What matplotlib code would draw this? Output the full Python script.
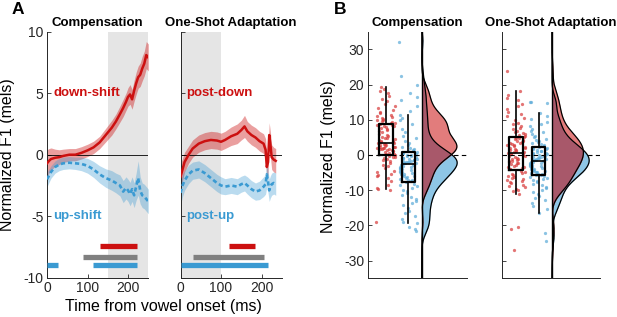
import numpy as np
import matplotlib
matplotlib.use('Agg')
import matplotlib.pyplot as plt

plt.rcParams['font.family'] = ['Liberation Sans', 'DejaVu Sans']
plt.rcParams['axes.unicode_minus'] = False

# ---------------- Panel A data ----------------
t_comp = [0, 5, 10, 20, 30, 40, 55, 70, 85, 100, 115, 130, 145, 160, 170, 180, 188, 195, 200, 205,
          210, 215, 220, 225, 230, 235, 240, 245, 250]
down_mean = [-0.7, -0.5, -0.35, -0.25, -0.2, -0.1, 0.0, 0.0, 0.15, 0.35, 0.6, 1.0, 1.6, 2.2, 2.7, 3.3, 3.8, 4.3, 4.7, 4.9,
             4.5, 5.2, 5.8, 6.3, 6.5, 7.0, 7.4, 8.1, 7.9]
down_sem = [1.1, 1.0, 0.9, 0.7, 0.6, 0.55, 0.5, 0.5, 0.5, 0.5, 0.5, 0.5, 0.55, 0.6, 0.6, 0.65, 0.7, 0.7, 0.75, 0.8,
            0.8, 0.85, 0.9, 0.9, 0.95, 1.0, 1.0, 1.1, 1.1]
up_mean = [-2.0, -1.7, -1.4, -1.0, -0.8, -0.7, -0.65, -0.7, -0.75, -0.9, -1.2, -1.6, -1.9, -2.1, -2.3, -2.5, -3.0, -2.7, -2.9, -3.2,
           -2.8, -3.3, -2.6, -1.9, -2.9, -3.3, -3.4, -3.6, -3.8]
up_sem = [0.6, 0.55, 0.5, 0.5, 0.5, 0.5, 0.5, 0.5, 0.55, 0.6, 0.65, 0.7, 0.75, 0.8, 0.8, 0.85, 0.9, 0.9, 0.9, 0.95,
          1.0, 1.0, 1.1, 1.4, 1.1, 1.0, 1.0, 1.0, 1.0]

t_adapt = [0, 5, 10, 20, 30, 45, 60, 75, 90, 100, 110, 125, 140, 150, 158, 165, 175, 185, 195, 205,
           210, 213, 216, 219, 222, 225, 230, 235]
postdown_mean = [-1.8, -1.2, -0.6, 0.0, 0.5, 0.9, 1.1, 1.2, 1.15, 1.05, 1.2, 1.5, 1.7, 2.0, 2.3, 1.9, 1.6, 1.4, 1.1, 0.9,
                 0.4, -1.0, -0.6, 1.6, 0.8, -0.2, -0.4, -0.5]
postdown_sem = [1.0, 0.9, 0.8, 0.7, 0.7, 0.7, 0.7, 0.7, 0.7, 0.7, 0.7, 0.75, 0.8, 0.8, 0.9, 0.8, 0.8, 0.8, 0.8, 0.8,
                0.9, 1.0, 1.0, 1.0, 1.0, 1.0, 1.0, 1.0]
postup_mean = [-3.1, -2.5, -2.1, -1.6, -1.3, -1.2, -1.5, -1.9, -2.3, -2.5, -2.6, -2.5, -2.6, -2.4, -2.3, -2.5, -2.8, -3.0, -2.9, -2.6,
               -2.4, -1.6, -2.2, -2.9, -2.6, -2.4, -2.3, -2.4]
postup_sem = [1.0, 0.9, 0.8, 0.75, 0.7, 0.7, 0.7, 0.7, 0.7, 0.7, 0.65, 0.65, 0.65, 0.65, 0.65, 0.7, 0.7, 0.7, 0.75, 0.8,
              0.8, 1.0, 0.9, 0.9, 0.9, 0.9, 0.9, 0.9]

# significance windows (ms): down, both, up
comp_sig_start = [131, 90, 114, 0]
comp_sig_end = [221, 221, 221, 26]
adapt_sig_start = [120, 32, 0]
adapt_sig_end = [183, 207, 217]
comp_shade = [150, 250]
adapt_shade = [0, 100]

# ---------------- Panel B data ----------------
comp_down = [-19.0, -9.9, -9.6, -9.3, -8.6, -7.5, -6.4, -5.9, -5.6, -5.3, -4.9, -4.4, -3.8, -3.2, -2.7, -2.2, -1.8, -1.5, -1.2, -0.9, -0.7, -0.5, -0.3, -0.1,
             0.2, 0.4, 0.6, 0.8, 1.0, 1.2, 1.3, 1.5, 1.6, 1.7, 1.8, 1.9, 2.0, 2.1, 2.2, 2.3, 2.4, 2.6, 2.7, 2.9, 3.0, 3.2, 3.3, 3.4,
             3.6, 3.8, 3.9, 4.1, 4.3, 4.5, 4.7, 4.9, 5.2, 5.5, 5.8, 6.1, 6.4, 6.7, 7.0, 7.3, 7.6, 7.9, 8.1, 8.3, 8.5, 8.6, 8.7, 8.8,
             9.0, 9.2, 9.4, 9.6, 9.8, 10.0, 10.2, 10.5, 10.8, 11.1, 11.4, 11.8, 12.2, 12.7, 13.2, 13.8, 14.5, 15.2, 16.0, 16.8, 17.5, 18.2, 18.8, 19.2]
comp_up = [32.1, 22.5, 19.8, 17.5, 16.5, 15.5, 13.9, 12.6, 11.3, 10.5, 9.8, 8.7, 7.5, 6.4, 5.5, 4.8, 4.0, 3.4, 2.9, 2.4, 1.9, 1.6, 1.3, 1.0,
           0.8, 0.6, 0.5, 0.3, 0.1, -0.1, -0.3, -0.4, -0.6, -0.8, -0.9, -1.1, -1.2, -1.4, -1.5, -1.7, -1.8, -1.9, -2.0, -2.1, -2.2, -2.3, -2.4, -2.5,
           -2.7, -2.9, -3.1, -3.3, -3.5, -3.7, -3.9, -4.1, -4.3, -4.5, -4.7, -4.9, -5.1, -5.3, -5.5, -5.7, -5.9, -6.1, -6.3, -6.6, -6.8, -7.0, -7.2, -7.5,
           -7.8, -8.1, -8.5, -8.9, -9.3, -9.8, -10.3, -10.8, -11.3, -11.8, -12.4, -13.0, -13.6, -14.3, -15.0, -15.8, -16.6, -17.4, -18.2, -19.0, -19.4, -20.5, -21.0, -21.5]
adapt_down = [23.8, 18.2, 17.0, 16.2, 15.5, 14.6, 13.8, 13.0, 12.3, 11.6, 11.0, 10.4, 9.8, 9.2, 8.7, 8.2, 7.7, 7.3, 6.9, 6.5, 6.2, 5.9, 5.6, 5.3,
              5.1, 4.9, 4.7, 4.5, 4.3, 4.1, 3.9, 3.7, 3.5, 3.3, 3.1, 2.9, 2.7, 2.5, 2.3, 2.1, 1.9, 1.7, 1.5, 1.3, 1.1, 0.9, 0.8, 0.7,
              0.6, 0.4, 0.2, 0.0, -0.2, -0.4, -0.6, -0.8, -1.0, -1.2, -1.4, -1.6, -1.8, -2.0, -2.2, -2.4, -2.6, -2.8, -3.0, -3.3, -3.5, -3.7, -3.9, -4.1,
              -4.4, -4.7, -5.0, -5.3, -5.6, -5.9, -6.2, -6.5, -6.8, -7.1, -7.4, -7.7, -8.0, -8.4, -8.8, -9.2, -9.6, -9.9, -10.3, -11.0, -20.3, -21.0, -26.9]
adapt_up = [15.1, 15.0, 14.8, 11.8, 11.0, 10.2, 9.5, 8.8, 8.1, 7.5, 6.9, 6.4, 5.9, 5.4, 5.0, 4.6, 4.2, 3.9, 3.6, 3.3, 3.0, 2.8, 2.5, 2.3,
            2.1, 1.9, 1.8, 1.6, 1.4, 1.2, 1.0, 0.9, 0.7, 0.5, 0.3, 0.2, 0.0, -0.2, -0.3, -0.5, -0.6, -0.8, -0.9, -1.1, -1.2, -1.3, -1.4, -1.5,
            -1.7, -1.9, -2.0, -2.2, -2.4, -2.5, -2.7, -2.9, -3.0, -3.2, -3.4, -3.5, -3.7, -3.9, -4.0, -4.2, -4.4, -4.6, -4.8, -4.9, -5.1, -5.3, -5.5, -5.6,
            -5.8, -6.0, -6.3, -6.6, -6.9, -7.2, -7.5, -7.8, -8.2, -8.6, -9.0, -9.5, -10.0, -10.5, -11.0, -11.6, -12.2, -12.9, -13.6, -14.4, -15.2, -16.5, -22.0, -24.3]

# box stats: [whislo, q1, med, q3, whishi]
comp_down_box = [-9.7, 0.0, 3.5, 8.8, 19.2]
comp_up_box = [-19.4, -7.6, -2.6, 0.9, 11.3]
adapt_down_box = [-11.0, -4.25, 0.65, 5.2, 18.2]
adapt_up_box = [-16.5, -5.7, -1.6, 2.2, 11.8]

# ---------------- styling ----------------
RED = '#CC1010'
BLUE = '#3A9AD2'
GRAY = '#808080'
SPINE = '#262626'

W, H = 617, 317
fig = plt.figure(figsize=(6.17, 3.17), dpi=100)


def px_axes(l, t, r, b):
    return fig.add_axes([l / W, 1 - b / H, (r - l) / W, (b - t) / H])


def style(ax):
    for s in ['top', 'right']:
        ax.spines[s].set_visible(False)
    for s in ['left', 'bottom']:
        ax.spines[s].set_color(SPINE)
        ax.spines[s].set_linewidth(0.7)
    ax.tick_params(direction='in', length=3, width=0.6, labelsize=10, pad=2.5, colors=SPINE)


def panelA(ax, t, m1, s1, m2, s2, shade, sig_s, sig_e, title, lab1, lab2, show_ylab):
    t = np.asarray(t); m1 = np.asarray(m1); s1 = np.asarray(s1)
    m2 = np.asarray(m2); s2 = np.asarray(s2)
    ax.axvspan(shade[0], shade[1], color='#E5E5E5', lw=0, zorder=0)
    ax.fill_between(t, m1 - s1, m1 + s1, color=RED, alpha=0.4, lw=0, zorder=1)
    ax.fill_between(t, m2 - s2, m2 + s2, color=BLUE, alpha=0.35, lw=0, zorder=1)
    ax.axhline(0, color='k', lw=0.6, zorder=2)
    ax.plot(t, m1, color=RED, lw=1.8, zorder=3)
    ax.plot(t, m2, color=BLUE, lw=1.9, ls=(0, (1.6, 1.1)), zorder=3)
    ylev = [-7.45, -8.3, -9.0, -9.0]
    cols = [RED, GRAY, BLUE, BLUE]
    for i in range(len(sig_s)):
        ax.hlines(ylev[i], sig_s[i], sig_e[i], color=cols[i], lw=3.8, capstyle='butt', zorder=3)
    ax.set_xlim(0, 250)
    ax.set_ylim(-10, 10)
    ax.set_xticks([0, 100, 200])
    ax.set_yticks([-10, -5, 0, 5, 10])
    style(ax)
    if not show_ylab:
        ax.set_yticklabels([])
    ax.set_title(title, fontsize=9.5, fontweight='bold', pad=4)
    ax.text(15, 5, lab1, color=RED, fontweight='bold', fontsize=9.5, va='center', zorder=4)
    ax.text(15, -5, lab2, color=BLUE, fontweight='bold', fontsize=9.5, va='center', zorder=4)


def kde(vals, grid):
    v = np.asarray(vals, float)
    n = len(v)
    q75, q25 = np.percentile(v, [75, 25])
    h = 0.9 * min(v.std(ddof=1), (q75 - q25) / 1.34) * n ** -0.2
    z = (grid[:, None] - v[None, :]) / h
    return np.exp(-0.5 * z ** 2).sum(axis=1) / (n * h * np.sqrt(2 * np.pi))


def jitter(n, a, b, half):
    # deterministic quadratic Weyl sequence for horizontal spread of the dots
    return np.array([((a * i * i + b * i) % 1.0 - 0.5) * 2 * half for i in range(n)])


def panelB(ax, dvals, uvals, dbox, ubox, xlim, title, show_ylab, scale):
    base = 2.6
    jd = jitter(len(dvals), 0.3090170, 0.4142136, 0.42)
    ju = jitter(len(uvals), 0.3774388, 0.7320508, 0.40)
    ax.scatter(1 + jd, dvals, s=5.5, color='#D83A3A', alpha=0.7, lw=0, zorder=2)
    ax.scatter(2 + ju, uvals, s=5.5, color='#5AAAD8', alpha=0.7, lw=0, zorder=2)
    stats = []
    for b in (dbox, ubox):
        stats.append(dict(whislo=b[0], q1=b[1], med=b[2], q3=b[3], whishi=b[4], fliers=[]))
    ax.bxp(stats, positions=[1, 2], widths=0.6, showcaps=False, showfliers=False, patch_artist=False,
           boxprops=dict(color='k', lw=1.6), whiskerprops=dict(color='k', lw=1.2),
           medianprops=dict(color='k', lw=1.2), zorder=3, manage_ticks=False)
    ax.axhline(0, color='k', lw=0.8, ls=(0, (4, 3)), zorder=4)
    grid = np.linspace(-35, 35, 700)
    kd = kde(dvals, grid) * scale
    ku = kde(uvals, grid) * scale
    ax.fill_betweenx(grid, base, base + ku, color='#8EC6E6', lw=0, zorder=5)
    ax.fill_betweenx(grid, base, base + kd, color='#E27C7C', lw=0, zorder=5)
    ax.fill_betweenx(grid, base, base + np.minimum(kd, ku), color='#A8586A', lw=0, zorder=6)
    ax.plot(base + ku, grid, color='k', lw=0.9, zorder=7)
    ax.plot(base + kd, grid, color='k', lw=0.9, zorder=7)
    ax.axvline(base, color='k', lw=1.0, zorder=7)
    ax.set_xlim(*xlim)
    ax.set_ylim(-35, 35)
    ax.set_xticks([])
    ax.set_yticks([-30, -20, -10, 0, 10, 20, 30])
    style(ax)
    if not show_ylab:
        ax.set_yticklabels([])
    ax.set_title(title, fontsize=9.5, fontweight='bold', pad=4)


axA1 = px_axes(47, 31.7, 148.3, 277.7)
axA2 = px_axes(180.5, 31.7, 281.8, 277.7)
axB1 = px_axes(367.7, 31.7, 466.7, 278.3)
axB2 = px_axes(501.7, 31.7, 600, 278.3)

panelA(axA1, t_comp, down_mean, down_sem, up_mean, up_sem, comp_shade, comp_sig_start, comp_sig_end,
       'Compensation', 'down-shift', 'up-shift', True)
panelA(axA2, t_adapt, postdown_mean, postdown_sem, postup_mean, postup_sem, adapt_shade, adapt_sig_start,
       adapt_sig_end, 'One-Shot Adaptation', 'post-down', 'post-up', False)

grid0 = np.linspace(-35, 35, 700)
scale = 1.56 / kde(comp_down, grid0).max()
panelB(axB1, comp_down, comp_up, comp_down_box, comp_up_box, (0.196, 4.596), 'Compensation', True, scale)
panelB(axB2, adapt_down, adapt_up, adapt_down_box, adapt_up_box, (0.364, 4.733), 'One-Shot Adaptation', False, scale)

fig.text(18 / W, 1 - 9 / H, 'A', fontsize=12.5, fontweight='bold', ha='center', va='center')
fig.text(340 / W, 1 - 10 / H, 'B', fontsize=12.5, fontweight='bold', ha='center', va='center')
fig.text(8 / W, 1 - 155 / H, 'Normalized F1 (mels)', fontsize=11.5, rotation=90, ha='center', va='center')
fig.text(328 / W, 1 - 157 / H, 'Normalized F1 (mels)', fontsize=11.5, rotation=90, ha='center', va='center')
fig.text(163 / W, 1 - 306 / H, 'Time from vowel onset (ms)', fontsize=11.5, ha='center', va='center')

fig.savefig('out.png', dpi=100)
